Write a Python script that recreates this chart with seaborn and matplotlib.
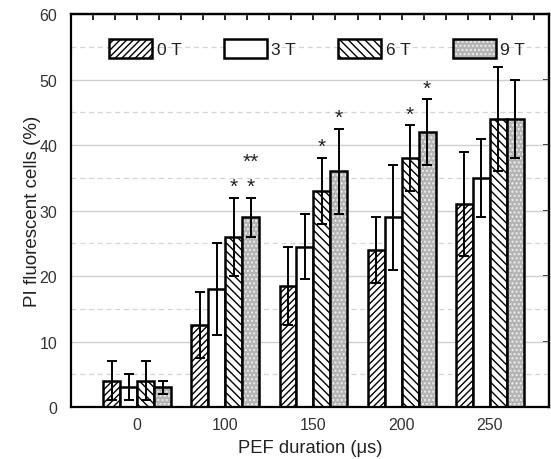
import numpy as np
import pandas as pd
import matplotlib
matplotlib.use("Agg")
import matplotlib.pyplot as plt
from matplotlib.patches import Patch
from matplotlib.colors import to_rgba
from matplotlib.ticker import MultipleLocator, NullFormatter
import seaborn as sns

durations = ["0", "100", "150", "200", "250"]
fields = ["0 T", "3 T", "6 T", "9 T"]
mean_0T = [4, 12.5, 18.5, 24, 31]
err_0T = [3, 5, 6, 5, 8]
mean_3T = [3, 18, 24.5, 29, 35]
err_3T = [2, 7, 5, 8, 6]
mean_6T = [4, 26, 33, 38, 44]
err_6T = [3, 6, 5, 5, 8]
mean_9T = [3, 29, 36, 42, 44]
err_9T = [1, 3, 6.5, 5, 6]
# significance marks: (duration, field, text, stack level)
star_marks = [("100", "6 T", "*", 0), ("100", "9 T", "*", 0), ("100", "9 T", "**", 1),
              ("150", "6 T", "*", 0), ("150", "9 T", "*", 0),
              ("200", "6 T", "*", 0), ("200", "9 T", "*", 0)]

means = [mean_0T, mean_3T, mean_6T, mean_9T]
errs = [err_0T, err_3T, err_6T, err_9T]

rows = []
for f, m in zip(fields, means):
    for d, v in zip(durations, m):
        rows.append({"duration": d, "field": f, "value": v})
df = pd.DataFrame(rows)

sns.set_style("white")
plt.rcParams["font.family"] = ["Liberation Sans", "DejaVu Sans"]
plt.rcParams["hatch.linewidth"] = 1.0

fig = plt.figure(figsize=(5.51, 4.60), dpi=100)
ax = fig.add_axes([0.129, 0.113, 0.867, 0.854])

styles = {
    "0 T": dict(facecolor="white", hatch="/////"),
    "3 T": dict(facecolor="white", hatch=""),
    "6 T": dict(facecolor="white", hatch="\\\\\\\\"),
    "9 T": dict(facecolor="#b4b4b4", hatch="...."),
}


def light_hatch(p):
    p._hatch_color = to_rgba("#ececec")
    p.stale = True


sns.barplot(data=df, x="duration", y="value", hue="field", order=durations,
            hue_order=fields, errorbar=None, width=0.77, gap=0,
            palette=["white"] * 4, edgecolor="black", linewidth=1.8,
            legend=False, ax=ax)

bar_x = {}
for cont, f, m, e in zip(ax.containers, fields, means, errs):
    for p, d, v, ev in zip(cont.patches, durations, m, e):
        st = styles[f]
        p.set_facecolor(st["facecolor"])
        p.set_hatch(st["hatch"])
        if f == "9 T":
            light_hatch(p)
        p.set_zorder(2)
        cx = p.get_x() + p.get_width() / 2
        bar_x[(d, f)] = (cx, v + ev)
        ax.errorbar(cx, v, yerr=ev, color="black", capsize=3.5, elinewidth=1.4,
                    capthick=1.4, zorder=3, fmt="none")

for d, f, txt, lvl in star_marks:
    cx, top = bar_x[(d, f)]
    ax.text(cx, top + 0.3 + lvl * 3.7, txt, ha="center", va="bottom",
            fontsize=15, color="#222222", zorder=4)

ax.set_ylim(0, 60)
ax.set_xlim(-0.75, 4.67)
ax.yaxis.set_major_locator(MultipleLocator(10))
ax.yaxis.set_minor_locator(MultipleLocator(5))
ax.set_axisbelow(True)
ax.yaxis.grid(True, which="major", color="#cfcfcf", lw=1.0, ls="-")
ax.yaxis.grid(True, which="minor", color="#d4d4d4", lw=0.9, ls=(0, (4, 3)))

for s in ax.spines.values():
    s.set_linewidth(1.6)
    s.set_color("black")

ax.tick_params(axis="y", which="major", direction="out", length=7, width=1.5,
               labelsize=11.5, colors="black", labelcolor="#333333", pad=3)
ax.tick_params(axis="y", which="minor", direction="inout", length=6, width=1.3)
ax.tick_params(axis="x", which="both", length=0, labelsize=11.5,
               labelcolor="#333333", pad=7)

secx = ax.secondary_xaxis("top")
secx.set_xticks(np.arange(-0.5, 4.51, 0.25))
secx.xaxis.set_major_formatter(NullFormatter())
secx.tick_params(direction="in", length=4, width=1.4)
secx.spines["top"].set_linewidth(1.6)

secy = ax.secondary_yaxis("right")
secy.set_yticks(np.arange(0, 61, 10))
secy.yaxis.set_major_formatter(NullFormatter())
secy.tick_params(direction="in", length=4, width=1.4)
secy.spines["right"].set_linewidth(1.6)

ax.set_xlabel("PEF duration (\u03bcs)", fontsize=13.2, color="#222222", labelpad=5)
ax.set_ylabel("PI fluorescent cells (%)", fontsize=13.5, color="#222222", labelpad=-1)

handles = []
for f in fields:
    st = styles[f]
    h = Patch(facecolor=st["facecolor"], hatch=st["hatch"], edgecolor="black",
              linewidth=1.8, label=f)
    if f == "9 T":
        light_hatch(h)
    handles.append(h)
leg = ax.legend(handles=handles, ncol=4, loc="center", bbox_to_anchor=(0.515, 0.913),
                frameon=False, fontsize=12.5, handlelength=2.47, handleheight=1.26,
                handletextpad=0.25, columnspacing=2.45, labelcolor="#222222")

fig.savefig("out.png", dpi=100)
